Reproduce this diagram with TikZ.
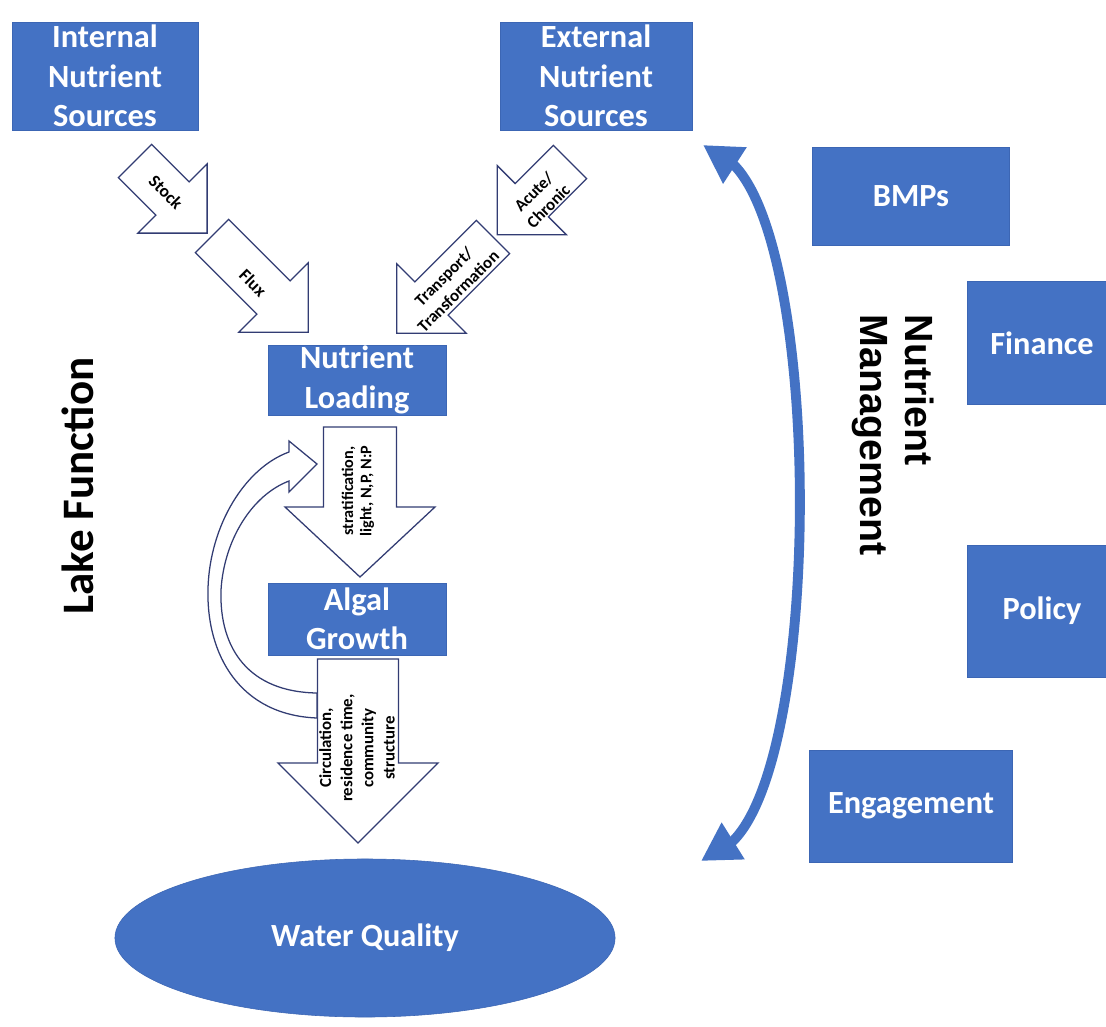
\documentclass[tikz,border=0pt]{standalone}
\usepackage{fontspec}
\setmainfont{Carlito}
\newfontfamily\arialfont{Liberation Sans}
\usetikzlibrary{shapes.geometric}
\usetikzlibrary{arrows.meta}
\definecolor{boxblue}{RGB}{68,114,196}
\definecolor{boxedge}{RGB}{60,102,180}
\definecolor{arrowedge}{RGB}{50,60,115}

\begin{document}
\begin{tikzpicture}[line join=miter,x=0.025cm,y=-0.025cm,
  bluebox/.style={draw=boxedge,fill=boxblue,text=white,align=center,inner sep=0pt,font=\bfseries\fontsize{23}{28}\selectfont},
  blockarrow/.style={draw=arrowedge,fill=white,line width=0.9pt},
  armtext/.style={align=center,inner sep=0pt,font=\bfseries\fontsize{12}{14.5}\selectfont},
  sidelabel/.style={align=left,inner sep=0pt},
  mgmtarrow/.style={draw=boxblue,line width=7pt,arrows={Triangle[length=27pt,width=29pt]-Triangle[length=27pt,width=29pt]}}]
\useasboundingbox (0,0) rectangle (1106,1027);
\fill[white] (0,0) rectangle (1106,1027);
\clip (0,0) rectangle (1106,1027);
% sources and lake boxes
\node[bluebox,minimum width=4.65cm,minimum height=2.7cm] (intsrc) at (105,76) {Internal\\Nutrient\\Sources};
\node[bluebox,minimum width=4.8cm,minimum height=2.7cm] (extsrc) at (596,76) {External\\Nutrient\\Sources};
\node[bluebox,minimum width=4.45cm,minimum height=1.75cm] (loading) at (357,380) {Nutrient\\Loading};
\node[bluebox,minimum width=4.45cm,minimum height=1.8cm] (algal) at (357,619) {Algal\\Growth};
% management boxes
\node[bluebox,minimum width=4.925cm,minimum height=2.45cm] (bmps) at (911,196) {BMPs};
\node[bluebox,minimum width=3.75cm,minimum height=3.075cm] (finance) at (1042,343) {Finance};
\node[bluebox,minimum width=3.75cm,minimum height=3.3cm] (policy) at (1042,611) {Policy};
\node[bluebox,minimum width=5.075cm,minimum height=2.8cm] (engage) at (911,806) {Engagement};
\node[ellipse,draw=boxedge,fill=boxblue,text=white,inner sep=0pt,minimum width=12.5cm,minimum height=3.95cm,font=\bfseries\fontsize{23}{28}\selectfont] (wq) at (365,938) {Water Quality};
% block arrows: x/y of tail, angle, length, shaft, head width, head length
\foreach \px/\py/\ang/\len/\sw/\hw/\hl in {135/161/-45/102/47/98/49,212/236/-45/136/47/98/49,570/162/-135/103/47/98/49,493/237/-135/136/47/98/49,360/427/-90/150/73/150/70,358/659/-90/184/81/160/80}
\draw[blockarrow,shift={(\px,\py)},rotate=\ang] (0,{\sw/2}) -- ({\len-\hl},{\sw/2}) -- ({\len-\hl},{\hw/2}) -- (\len,0) -- ({\len-\hl},{-\hw/2}) -- ({\len-\hl},{-\sw/2}) -- (0,{-\sw/2}) -- cycle;
% feedback arrow
\draw[blockarrow] (317,718) .. controls (240,715) and (206,655) .. (208,588) .. controls (210,525) and (245,468) .. (289,452) -- (289,441) -- (317,464) -- (289,492) -- (289,481) .. controls (252,495) and (224,540) .. (221,590) .. controls (219,650) and (250,692) .. (317,693) -- cycle;
\node[armtext,rotate=-45,font=\bfseries\fontsize{12.5}{15}\selectfont] (stock) at (166,192) {Stock};
\node[armtext,rotate=-45,font=\bfseries\fontsize{12.5}{15}\selectfont] (flux) at (253,283) {Flux};
\node[armtext,rotate=45] (acute) at (541,199) {Acute/\\Chronic};
\node[armtext,rotate=45] (transp) at (451,284) {Transport/\\Transformation};
\node[armtext,rotate=90,font=\bfseries\fontsize{11.5}{13}\selectfont] (strat) at (358,491) {stratification,\\light, N,P, N:P};
\node[armtext,rotate=90,font=\bfseries\fontsize{12}{15}\selectfont] (circ) at (357,748) {Circulation,\\residence time,\\community\\structure};
% side labels
\node[sidelabel,rotate=90,font=\bfseries\fontsize{32}{36}\selectfont] (lake) at (78,486) {Lake Function};
\node[sidelabel,rotate=-90,font=\arialfont\bfseries\fontsize{28}{32}\selectfont] (mgmt) at (893,435) {Nutrient\\Management};
\coordinate (mtop) at (703,145);
\coordinate (mbot) at (701,861);
\draw[mgmtarrow] (mtop) -- (734,165) .. controls (822,255) and (822,752) .. (733,841) -- (mbot);
\end{tikzpicture}
\end{document}
